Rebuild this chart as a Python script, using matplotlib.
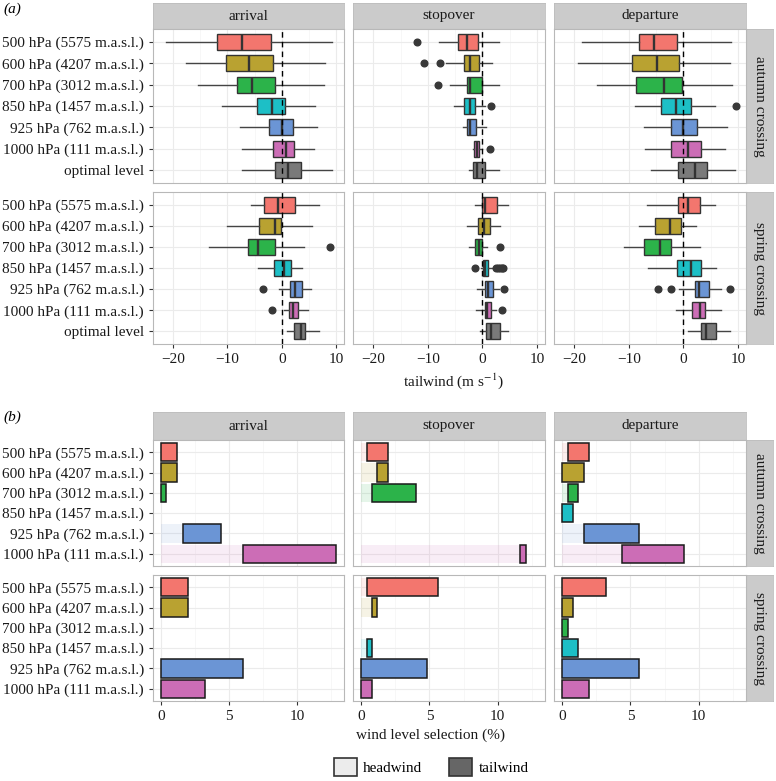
"""
Tailwind boxplots (a) and wind level selection bars (b), by phase and season.
Values read from the published figure.
"""
import matplotlib
matplotlib.use("Agg")
import matplotlib.pyplot as plt
from matplotlib.patches import Patch

plt.rcParams["font.family"] = ["Liberation Serif", "DejaVu Serif"]
plt.rcParams["mathtext.fontset"] = "stix"
FS = 11

W, H = 776, 781

# ---- categories ------------------------------------------------------------
levels = ["500 hPa (5575 m.a.s.l.)", "600 hPa (4207 m.a.s.l.)",
          "700 hPa (3012 m.a.s.l.)", "850 hPa (1457 m.a.s.l.)",
          "925 hPa (762 m.a.s.l.)", "1000 hPa (111 m.a.s.l.)"]
box_levels = levels + ["optimal level"]
phases = ["arrival", "stopover", "departure"]
seasons = ["autumn crossing", "spring crossing"]
level_cols = ["#F3766E", "#B9A231", "#2CB34A", "#1DBFC6", "#6B95D5", "#CC6DB6"]
box_cols = level_cols + ["#7A7A7A"]

# ---- (a) tailwind: whisker low, Q1, median, Q3, whisker high ---------------
arr_aut = [(-21.3, -12.0, -7.4, -2.0, 9.2), (-17.7, -10.2, -6.1, -1.7, 8.0),
           (-15.5, -8.2, -5.5, -1.3, 7.8), (-11.0, -4.6, -1.8, 0.6, 6.2),
           (-7.7, -2.3, 0.0, 2.1, 6.5), (-7.3, -1.7, 0.7, 2.3, 5.9),
           (-7.3, -1.2, 1.2, 3.5, 9.2)]
arr_aut_out = [[], [], [], [], [], [], []]
sto_aut = [(-7.9, -4.4, -2.9, -0.8, 3.0), (-6.7, -3.4, -2.3, -0.6, 1.7),
           (-6.0, -2.8, -2.2, 0.0, 3.1), (-5.2, -3.3, -2.3, -1.3, 0.4),
           (-3.6, -2.8, -2.3, -1.2, 0.6), (-1.8, -1.5, -1.0, -0.6, 0.0),
           (-2.5, -1.7, -1.0, 0.5, 3.1)]
sto_aut_out = [[-11.9], [-10.7, -7.7], [-8.2], [1.5], [], [1.3], []]
dep_aut = [(-18.5, -8.1, -5.4, -1.1, 8.7), (-19.3, -9.4, -4.9, -0.9, 8.5),
           (-15.9, -8.7, -3.6, -0.3, 8.8), (-8.9, -4.1, -1.3, 1.3, 5.7),
           (-7.3, -2.2, 0.0, 2.4, 8.0), (-7.0, -2.2, 0.8, 3.2, 7.6),
           (-5.9, -1.0, 2.1, 4.3, 9.5)]
dep_aut_out = [[], [], [], [9.7], [], [], []]

arr_spr = [(-5.7, -3.2, -0.7, 2.4, 6.8), (-10.1, -4.2, -1.2, -0.1, 5.6),
           (-13.4, -6.3, -4.3, -1.2, 4.0), (-4.4, -1.4, 0.5, 1.7, 3.7),
           (-0.6, 1.5, 2.5, 3.7, 5.4), (0.4, 1.3, 2.1, 3.0, 4.8),
           (1.0, 2.3, 3.6, 4.3, 6.8)]
arr_spr_out = [[], [], [8.9], [], [-3.4], [-1.8], []]
sto_spr = [(-1.3, 0.0, 0.4, 2.7, 4.6), (-2.9, -0.8, 0.2, 1.4, 3.2),
           (-2.5, -1.4, -0.6, 0.0, 0.9), (-0.3, 0.1, 0.4, 1.1, 2.1),
           (-1.0, 0.4, 1.0, 1.9, 3.0), (-1.1, 0.4, 0.9, 1.6, 2.4),
           (-0.4, 0.7, 1.5, 3.2, 4.6)]
sto_spr_out = [[], [], [3.2], [-1.4, 2.5, 2.9, 3.2, 3.5, 3.8], [3.9], [3.5], []]
dep_spr = [(-6.6, -1.0, 0.9, 3.1, 5.7), (-8.2, -5.2, -2.5, -0.5, 2.3),
           (-10.8, -7.2, -4.3, -2.2, 3.1), (-6.4, -1.2, 1.4, 3.3, 5.9),
           (-0.9, 2.2, 2.9, 4.7, 6.9), (-1.4, 1.6, 3.0, 4.0, 6.9),
           (0.9, 3.2, 4.1, 5.9, 8.5)]
dep_spr_out = [[], [], [], [], [-4.7, -2.3, 8.6], [], []]

# ---- (b) wind level selection (%): headwind part, tailwind part -------------
arr_aut_head = [0.0, 0.0, 0.0, 0.0, 1.6, 6.0]
arr_aut_tail = [1.2, 1.2, 0.4, 0.0, 2.8, 6.9]
sto_aut_head = [0.4, 1.2, 0.8, 0.0, 0.0, 11.6]
sto_aut_tail = [1.6, 0.8, 3.2, 0.0, 0.0, 0.5]
dep_aut_head = [0.4, 0.0, 0.4, 0.0, 1.6, 4.4]
dep_aut_tail = [1.6, 1.6, 0.8, 0.8, 4.0, 4.5]

arr_spr_head = [0.0, 0.0, 0.0, 0.0, 0.0, 0.0]
arr_spr_tail = [2.0, 2.0, 0.0, 0.0, 6.0, 3.2]
sto_spr_head = [0.4, 0.8, 0.0, 0.4, 0.0, 0.0]
sto_spr_tail = [5.2, 0.4, 0.0, 0.4, 4.8, 0.8]
dep_spr_head = [0.0, 0.0, 0.0, 0.0, 0.0, 0.0]
dep_spr_tail = [3.2, 0.8, 0.4, 1.2, 5.6, 2.0]

box_data = [[(arr_aut, arr_aut_out), (sto_aut, sto_aut_out), (dep_aut, dep_aut_out)],
            [(arr_spr, arr_spr_out), (sto_spr, sto_spr_out), (dep_spr, dep_spr_out)]]
bar_data = [[(arr_aut_head, arr_aut_tail), (sto_aut_head, sto_aut_tail),
             (dep_aut_head, dep_aut_tail)],
            [(arr_spr_head, arr_spr_tail), (sto_spr_head, sto_spr_tail),
             (dep_spr_head, dep_spr_tail)]]

# ---- layout (pixels from top-left) -----------------------------------------
col_x = [(153, 344), (353, 545), (554, 746)]
strip_r = (746, 773)
a_strip = (3, 29)
a_rows = [(29, 183), (192, 344)]
b_strip = (412, 440)
b_rows = [(440, 566), (575, 701)]

fig = plt.figure(figsize=(W / 100, H / 100), dpi=100)


def px_axes(x0, y0, x1, y1):
    return fig.add_axes([x0 / W, 1 - y1 / H, (x1 - x0) / W, (y1 - y0) / H])


def strip(x0, y0, x1, y1, text, rot=0):
    s = px_axes(x0, y0, x1, y1)
    s.set_facecolor("#CBCBCB")
    s.set_xticks([]); s.set_yticks([])
    for sp in s.spines.values():
        sp.set_color("#BDBDBD"); sp.set_linewidth(0.6)
    s.text(0.5, 0.5, text, ha="center", va="center", rotation=rot,
           fontsize=FS, color="#1A1A1A", transform=s.transAxes)


def style(ax, nrow, xlim, major, minor, left, bottom):
    ax.set_xlim(*xlim)
    ax.set_ylim(nrow - 1 + 0.6, -0.6)
    ax.set_xticks(major); ax.set_xticks(minor, minor=True)
    ax.set_yticks(range(nrow))
    ax.grid(which="major", color="#EBEBEB", lw=0.8)
    ax.grid(which="minor", axis="x", color="#F4F4F4", lw=0.5)
    ax.set_axisbelow(True)
    for sp in ax.spines.values():
        sp.set_color("#B8B8B8"); sp.set_linewidth(0.8)
    ax.tick_params(which="minor", length=0)
    ax.tick_params(which="major", length=3, color="#333333", width=0.8,
                   labelsize=FS, labelcolor="#1A1A1A")
    if not left:
        ax.tick_params(axis="y", length=0, labelleft=False)
    if not bottom:
        ax.tick_params(axis="x", length=0, labelbottom=False)


# ===========================================================================
# (a) tailwind boxplots
# ===========================================================================
for j, ph in enumerate(phases):
    strip(col_x[j][0], a_strip[0], col_x[j][1], a_strip[1], ph)
for i, (y0, y1) in enumerate(a_rows):
    strip(strip_r[0], y0, strip_r[1], y1, seasons[i], rot=270)
    for j, (x0, x1) in enumerate(col_x):
        ax = px_axes(x0, y0, x1, y1)
        stats_in, outs = box_data[i][j]
        stats = [dict(whislo=s[0], q1=s[1], med=s[2], q3=s[3], whishi=s[4],
                      fliers=o) for s, o in zip(stats_in, outs)]
        bp = ax.bxp(stats, positions=range(len(stats)), orientation="horizontal",
                    widths=0.75, patch_artist=True, showcaps=False,
                    boxprops=dict(edgecolor="#333333", linewidth=1.0),
                    whiskerprops=dict(color="#444444", linewidth=1.0),
                    medianprops=dict(color="#333333", linewidth=1.7),
                    flierprops=dict(marker="o", markerfacecolor="#383838",
                                    markeredgecolor="#383838", markersize=4.8))
        for patch, c in zip(bp["boxes"], box_cols):
            patch.set_facecolor(c)
        ax.axvline(0, color="black", ls=(0, (4, 3)), lw=1.0, zorder=5)
        style(ax, len(box_levels), (-23.7, 11.45), [-20, -10, 0, 10],
              [-15, -5, 5], j == 0, i == 1)
        if j == 0:
            ax.set_yticklabels(box_levels)

fig.text(453 / W, 1 - 381 / H, "tailwind (m s$^{-1}$)", ha="center",
         va="center", fontsize=FS, color="#1A1A1A")

# ===========================================================================
# (b) wind level selection bars
# ===========================================================================
for j, ph in enumerate(phases):
    strip(col_x[j][0], b_strip[0], col_x[j][1], b_strip[1], ph)
for i, (y0, y1) in enumerate(b_rows):
    strip(strip_r[0], y0, strip_r[1], y1, seasons[i], rot=270)
    for j, (x0, x1) in enumerate(col_x):
        ax = px_axes(x0, y0, x1, y1)
        head, tail = bar_data[i][j]
        y = range(len(levels))
        ax.barh(y, head, height=0.9, color=level_cols, alpha=0.12, lw=0)
        ax.barh(y, tail, left=head, height=0.9, color=level_cols,
                edgecolor="#1A1A1A",
                linewidth=[1.1 if t > 0 else 0 for t in tail])
        style(ax, len(levels), (-0.59, 13.46), [0, 5, 10], [2.5, 7.5, 12.5],
              j == 0, i == 1)
        if j == 0:
            ax.set_yticklabels(levels)

fig.text(430 / W, 1 - 735 / H, "wind level selection (%)", ha="center",
         va="center", fontsize=FS, color="#1A1A1A")

handles = [Patch(facecolor="#ECECEC", edgecolor="#333333", lw=1.2),
           Patch(facecolor="#666666", edgecolor="#333333", lw=1.2)]
fig.legend(handles, ["headwind", "tailwind"], loc="center",
           bbox_to_anchor=(431 / W, 1 - 767 / H), ncol=2, frameon=False,
           fontsize=FS, handlelength=1.5, handleheight=1.5,
           handletextpad=0.4, columnspacing=1.8)

fig.text(3 / W, 1 - 9 / H, "(a)", style="italic", fontsize=FS, va="center")
fig.text(3 / W, 1 - 417 / H, "(b)", style="italic", fontsize=FS, va="center")

fig.savefig("out.png", dpi=100)
